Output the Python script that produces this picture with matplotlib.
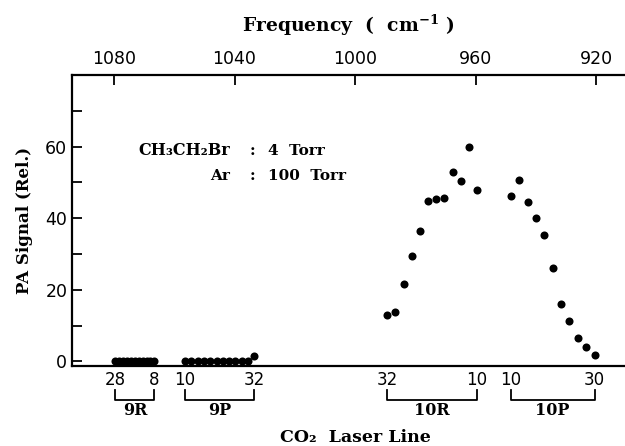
import numpy as np
import matplotlib
matplotlib.use("Agg")
import matplotlib.pyplot as plt

# ---------------- data ----------------
branches = ["9R", "9P", "10R", "10P"]
# CO2 laser line numbers in each branch, in plotting order
lines_9R = [28, 26, 24, 22, 20, 18, 16, 14, 12, 10, 8]
lines_9P = [10, 12, 14, 16, 18, 20, 22, 24, 26, 28, 30, 32]
lines_10R = [32, 30, 28, 26, 24, 22, 20, 18, 16, 14, 12, 10]
lines_10P = [10, 12, 14, 16, 18, 20, 22, 24, 26, 28, 30]
# frequency (cm^-1) of the first / last line of each branch as drawn
branch_freq_start = [1079.5, 1056.4, 989.3, 948.3]
branch_freq_end = [1066.6, 1033.4, 959.5, 920.5]
# PA signal (relative)
signal_9R = [0, 0, 0, 0, 0, 0, 0, 0, 0, 0, 0]
signal_9P = [0, 0, 0, 0, 0, 0, 0, 0, 0, 0, 0, 1.6]
signal_10R = [13.0, 13.8, 21.6, 29.5, 36.5, 44.8, 45.3, 45.7, 52.8, 50.4, 59.8, 47.9]
signal_10P = [46.1, 50.8, 44.6, 40.0, 35.3, 26.0, 16.0, 11.2, 6.6, 4.1, 1.7]

freq_ticks = [1080, 1040, 1000, 960, 920]
y_major = [0, 20, 40, 60]
y_minor = [10, 30, 50, 70]

# ---------------- styling ----------------
SERIF = "DejaVu Serif"
SANS = "DejaVu Sans"
plt.rcParams["font.family"] = SERIF
plt.rcParams["mathtext.fontset"] = "dejavuserif"
plt.rcParams["mathtext.default"] = "bf"

fig = plt.figure(figsize=(6.25, 4.46), dpi=100)
ax = fig.add_axes([71.5 / 625, 1 - 366 / 446, 1 - 71.5 / 625, (366 - 75) / 446])

all_lines = [lines_9R, lines_9P, lines_10R, lines_10P]
all_signal = [signal_9R, signal_9P, signal_10R, signal_10P]

def line_freqs(lines, f0, f1):
    lines = np.asarray(lines, dtype=float)
    t = (lines - lines[0]) / (lines[-1] - lines[0])
    return f0 + t * (f1 - f0)

for ln, sig, f0, f1 in zip(all_lines, all_signal, branch_freq_start, branch_freq_end):
    x = line_freqs(ln, f0, f1)
    ax.plot(x, sig, "o", color="black", markersize=5.8, markeredgewidth=0, zorder=3,
            clip_on=False)

ax.set_xlim(1094.1, 910.4)
ax.set_ylim(-1.26, 80)

# spines
for s in ["left", "top", "bottom"]:
    ax.spines[s].set_linewidth(1.6)
ax.spines["right"].set_visible(False)

# top frequency axis
ax.xaxis.tick_top()
ax.xaxis.set_label_position("top")
ax.set_xticks(freq_ticks)
ax.set_xticklabels([str(v) for v in freq_ticks], family=SANS)
ax.tick_params(axis="x", which="both", direction="in", length=7, width=1.3,
               pad=5, labelsize=12.5, top=True, bottom=False)
ax.set_xlabel("Frequency  (  cm$^{-1}$ )", fontsize=13.5, fontweight="bold",
              labelpad=13)

# y axis
ax.set_yticks(y_major)
ax.set_yticks(y_minor, minor=True)
ax.set_yticklabels([str(v) for v in y_major], family=SANS)
ax.tick_params(axis="y", which="both", direction="in", length=7.5, width=1.3,
               pad=3, labelsize=12.5)
ax.set_ylabel("PA Signal (Rel.)", fontsize=12, fontweight="bold", labelpad=9)

# bottom CO2 laser line annotations
trans = ax.get_xaxis_transform()
for name, ln, f0, f1 in zip(branches, all_lines, branch_freq_start, branch_freq_end):
    ax.text(f0, -0.048, str(ln[0]), transform=trans, ha="center", va="center",
            fontsize=12, family=SANS)
    ax.text(f1, -0.048, str(ln[-1]), transform=trans, ha="center", va="center",
            fontsize=12, family=SANS)
    ax.plot([f0, f0, f1, f1], [-0.0825, -0.117, -0.117, -0.0825], transform=trans,
            color="black", lw=1.3, clip_on=False)
    ax.text((f0 + f1) / 2, -0.152, name, transform=trans, ha="center", va="center",
            fontsize=11.5, fontweight="bold")

ax.text(0.513, -0.245, "CO₂  Laser Line", transform=ax.transAxes, ha="center",
        va="center", fontsize=12.5, fontweight="bold")

# gas composition annotation
ax.text(0.2865, 0.740, "CH₃CH₂Br", transform=ax.transAxes, ha="right", va="center",
        fontsize=11.5, fontweight="bold")
ax.text(0.326, 0.740, ":", transform=ax.transAxes, ha="center", va="center",
        fontsize=11, fontweight="bold")
ax.text(0.355, 0.740, "4  Torr", transform=ax.transAxes, ha="left", va="center",
        fontsize=11, fontweight="bold")
ax.text(0.2865, 0.654, "Ar", transform=ax.transAxes, ha="right", va="center",
        fontsize=11, fontweight="bold")
ax.text(0.326, 0.654, ":", transform=ax.transAxes, ha="center", va="center",
        fontsize=11, fontweight="bold")
ax.text(0.355, 0.654, "100  Torr", transform=ax.transAxes, ha="left", va="center",
        fontsize=11, fontweight="bold")

fig.savefig("out.png", dpi=100)
